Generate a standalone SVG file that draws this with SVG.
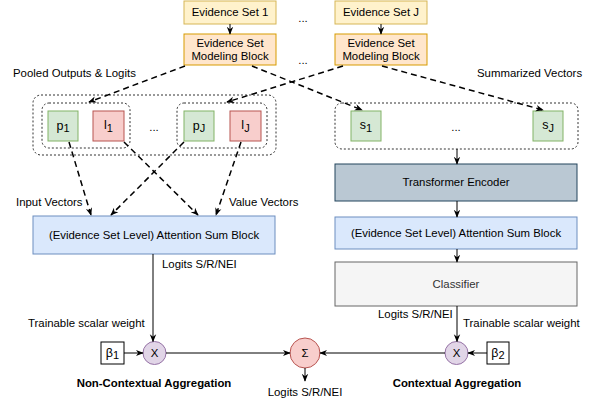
<svg xmlns="http://www.w3.org/2000/svg" width="589" height="402" viewBox="0 0 589 402">
<defs>
<style>
text{font-family:"Liberation Sans",Arial,sans-serif;font-size:11.4px;fill:#000}
.c{text-anchor:middle}
.b{font-weight:bold}
.es{fill:#fff2cc;stroke:#d6b656}
.mb{fill:#ffe6cc;stroke:#d79b00}
.g{fill:#d5e8d4;stroke:#82b366}
.r{fill:#f8cecc;stroke:#b85450}
.grp{fill:none;stroke:#333;stroke-dasharray:2 2}
.te{fill:#bac8d3;stroke:#23445d}
.asb{fill:#dae8fc;stroke:#6c8ebf}
.cl{fill:#f5f5f5;stroke:#666}
.x{fill:#e1d5e7;stroke:#9673a6}
.beta{fill:#fff;stroke:#000}
.sol{fill:none;stroke:#000;stroke-width:1;marker-end:url(#arr)}
.dash{fill:none;stroke:#000;stroke-width:1.5;stroke-dasharray:6 4;marker-end:url(#arr)}
.v{font-size:12.5px}
.sub{font-size:11px}
</style>
<marker id="arr" viewBox="0 0 10 10" refX="9" refY="5" markerWidth="8" markerHeight="8" orient="auto" markerUnits="userSpaceOnUse"><path d="M0,1 L10,5 L0,9 L3,5 z" fill="#000"/></marker>
</defs>

<g id="es1"><rect class="es" x="184" y="1" width="92" height="23"/><text class="c" x="230" y="16">Evidence Set 1</text></g>
<g id="esJ"><rect class="es" x="335" y="1" width="92" height="23"/><text class="c" x="381" y="16">Evidence Set J</text></g>
<g id="mb1"><rect class="mb" x="184" y="34" width="92" height="31"/><text class="c" x="230" y="47">Evidence Set</text><text class="c" x="230" y="60">Modeling Block</text></g>
<g id="mbJ"><rect class="mb" x="335" y="34" width="92" height="31"/><text class="c" x="381" y="47">Evidence Set</text><text class="c" x="381" y="60">Modeling Block</text></g>
<text class="c" x="303" y="22">...</text>
<text class="c" x="303" y="64">...</text>

<text x="13" y="77">Pooled Outputs &amp; Logits</text>
<text x="477" y="77">Summarized Vectors</text>

<g id="groupLeft"><rect class="grp" x="33" y="95" width="243" height="60" rx="8"/></g>
<g id="group1"><rect class="grp" x="42" y="103" width="88" height="45" rx="7"/></g>
<g id="groupJ"><rect class="grp" x="177" y="103" width="90" height="45" rx="7"/></g>
<g id="groupRight"><rect class="grp" x="335" y="103" width="243" height="46" rx="7"/></g>

<g id="p1"><rect class="g" x="48" y="111" width="30" height="30"/><text class="c" x="63" y="130"><tspan class="v">p</tspan><tspan class="sub" dy="1.5">1</tspan></text></g>
<g id="l1"><rect class="r" x="93" y="111" width="31" height="30"/><text class="c" x="108.5" y="129"><tspan class="v">l</tspan><tspan class="sub" dy="3">1</tspan></text></g>
<text class="c" x="154" y="131">...</text>
<g id="pJ"><rect class="g" x="184" y="111" width="30" height="30"/><text class="c" x="199" y="130"><tspan class="v">p</tspan><tspan class="sub" dy="1.5">J</tspan></text></g>
<g id="lJ"><rect class="r" x="230" y="111" width="31" height="30"/><text class="c" x="245.5" y="129"><tspan class="v">l</tspan><tspan class="sub" dy="3">J</tspan></text></g>

<g id="s1"><rect class="g" x="351" y="111" width="30" height="30"/><text class="c" x="366" y="129"><tspan class="v">s</tspan><tspan class="sub" dy="3">1</tspan></text></g>
<text class="c" x="456" y="131">...</text>
<g id="sJ"><rect class="g" x="533" y="111" width="30" height="30"/><text class="c" x="548" y="129"><tspan class="v">s</tspan><tspan class="sub" dy="3">J</tspan></text></g>

<g id="te"><rect class="te" x="335" y="164" width="242" height="37"/><text class="c" x="456" y="186">Transformer Encoder</text></g>
<g id="asbR"><rect class="asb" x="335" y="217" width="242" height="32"/><text class="c" x="456" y="237">(Evidence Set Level) Attention Sum Block</text></g>
<g id="cls"><rect class="cl" x="335" y="262" width="242" height="44"/><text class="c" x="456" y="288" style="fill:#333">Classifier</text></g>
<g id="asbL"><rect class="asb" x="33" y="216" width="242" height="38"/><text class="c" x="154" y="239">(Evidence Set Level) Attention Sum Block</text></g>

<text x="16" y="206">Input Vectors</text>
<text x="229" y="206">Value Vectors</text>
<text x="162" y="268">Logits S/R/NEI</text>
<text x="378" y="318">Logits S/R/NEI</text>
<text x="28" y="327">Trainable scalar weight</text>
<text x="463" y="327">Trainable scalar weight</text>

<g id="beta1"><rect class="beta" x="101" y="342" width="23" height="22"/><text class="c" x="112.5" y="357"><tspan class="v">β</tspan><tspan class="sub" dy="1.5">1</tspan></text></g>
<g id="x1"><circle class="x" cx="154.5" cy="353" r="11.5"/><text class="c" x="154.5" y="357">X</text></g>
<g id="sigma"><circle class="r" cx="305" cy="353" r="15"/><text class="c" x="305" y="357">Σ</text></g>
<g id="x2"><circle class="x" cx="456.5" cy="353" r="11.5"/><text class="c" x="456.5" y="357">X</text></g>
<g id="beta2"><rect class="beta" x="487" y="342" width="22" height="22"/><text class="c" x="498" y="357"><tspan class="v">β</tspan><tspan class="sub" dy="1.5">2</tspan></text></g>

<text class="c b" x="154" y="387">Non-Contextual Aggregation</text>
<text class="c b" x="457" y="387">Contextual Aggregation</text>
<text class="c" x="305" y="396">Logits S/R/NEI</text>

<g id="connectors">
<line class="sol" x1="230" y1="24" x2="230" y2="34"/>
<line class="sol" x1="381" y1="24" x2="381" y2="34"/>
<line class="dash" x1="185" y1="66" x2="89" y2="102"/>
<line class="dash" x1="252" y1="66" x2="362" y2="110"/>
<line class="dash" x1="343" y1="66" x2="227" y2="102"/>
<line class="dash" x1="382" y1="66" x2="543" y2="110"/>
<line class="dash" x1="69" y1="142" x2="91" y2="215"/>
<line class="dash" x1="124" y1="142" x2="198" y2="215"/>
<line class="dash" x1="184" y1="142" x2="111" y2="215"/>
<line class="dash" x1="241" y1="142" x2="216" y2="215"/>
<line class="sol" x1="457" y1="149" x2="457" y2="164"/>
<line class="sol" x1="457" y1="201" x2="457" y2="217"/>
<line class="sol" x1="457" y1="249" x2="457" y2="262"/>
<line class="sol" x1="457" y1="306" x2="457" y2="341.5"/>
<line class="sol" x1="153" y1="254" x2="153" y2="341.5"/>
<line class="sol" x1="124" y1="353" x2="143" y2="353"/>
<line class="sol" x1="487" y1="353" x2="468" y2="353"/>
<line class="sol" x1="166" y1="353" x2="290" y2="353"/>
<line class="sol" x1="445" y1="353" x2="320" y2="353"/>
<line class="sol" x1="305" y1="368" x2="305" y2="381"/>
</g>
</svg>
